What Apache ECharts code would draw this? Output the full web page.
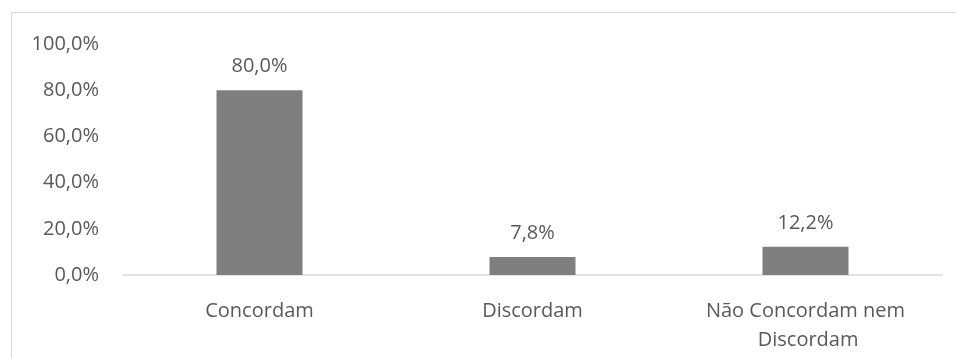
<!DOCTYPE html>
<html>
<head>
<meta charset="utf-8">
<script src="https://cdn.jsdelivr.net/npm/echarts@6/dist/echarts.min.js"></script>
<style>
  html, body { margin: 0; padding: 0; background: #ffffff; }
  #chart { width: 956px; height: 358px; }
</style>
</head>
<body>
<div id="chart"></div>
<script>
// Survey answers (percentage of respondents)
const categories = ['Concordam', 'Discordam', 'Não Concordam nem Discordam'];
const shares = [80.0, 7.8, 12.2];
const yTicks = { min: 0, max: 100, interval: 20 };

const fmt = v => v.toFixed(1).replace('.', ',') + '%';
const textColor = '#595959';
const font = 'Open Sans';

const chart = echarts.init(document.getElementById('chart'), null, { renderer: 'canvas' });
chart.setOption({
  backgroundColor: '#ffffff',
  animation: false,
  graphic: [{
    type: 'rect',
    shape: { x: 11.5, y: 12.5, width: 1000, height: 400 },
    style: { fill: 'none', stroke: '#d9d9d9', lineWidth: 1 },
    silent: true
  }],
  grid: { left: 123, right: 14, top: 44, bottom: 83 },
  xAxis: {
    type: 'category',
    data: categories,
    axisLine: { show: true, lineStyle: { color: '#d9d9d9', width: 1.5 } },
    axisTick: { show: false },
    axisLabel: {
      color: textColor, fontFamily: font, fontSize: 20, margin: 22,
      lineHeight: 29, width: 210, overflow: 'break', interval: 0
    }
  },
  yAxis: {
    type: 'value',
    min: yTicks.min, max: yTicks.max, interval: yTicks.interval,
    axisLine: { show: false },
    axisTick: { show: false },
    splitLine: { show: false },
    axisLabel: {
      color: textColor, fontFamily: font, fontSize: 20, margin: 24,
      formatter: v => fmt(v)
    }
  },
  series: [{
    type: 'bar',
    data: shares,
    barWidth: '31.5%',
    itemStyle: { color: '#7f7f7f' },
    label: {
      show: true, position: 'top', distance: 14,
      color: textColor, fontFamily: font, fontSize: 20,
      formatter: p => fmt(p.value)
    }
  }]
});
</script>
</body>
</html>
